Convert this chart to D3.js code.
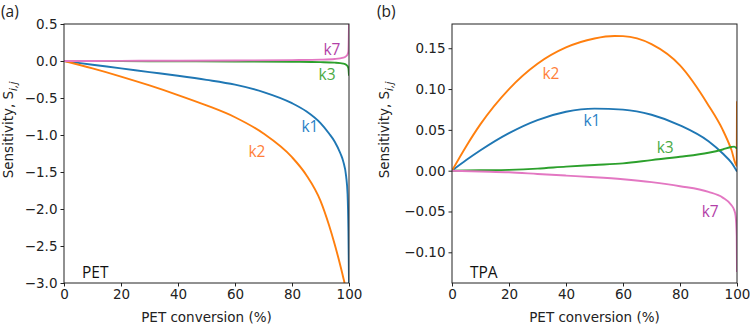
<!DOCTYPE html>
<html lang="en">
<head>
<meta charset="utf-8">
<title>Sensitivity</title>
<script src="https://cdn.jsdelivr.net/npm/d3@7"></script>
<style>
  body { margin: 0; background: #fff; }
  .tick text { font: 13.5px "DejaVu Sans", sans-serif; fill: #222; }
  .tick line, .domain { stroke: #222; }
  .lbl { font: 15.5px "Open Sans", sans-serif; }
  .axt { font: 13.5px "DejaVu Sans", sans-serif; fill: #222; }
</style>
</head>
<body>
<svg width="750" height="325"></svg>
<script>
// ---- panel (a): PET ----
var k1aX = [0, 10, 20, 30, 40, 50, 60, 70, 80, 85, 90, 93, 95, 97, 98, 99, 99.5, 99.8, 100];
var k1aY = [0, -0.05, -0.10, -0.15, -0.20, -0.255, -0.32, -0.42, -0.57, -0.68, -0.84, -0.98, -1.09, -1.25, -1.36, -1.56, -1.8, -2.3, -3.0];
var k2aX = [0, 10, 20, 30, 40, 50, 60, 70, 80, 85, 90, 93, 95, 97, 98, 98.5, 99];
var k2aY = [0, -0.10, -0.21, -0.33, -0.46, -0.60, -0.76, -0.98, -1.30, -1.54, -1.89, -2.22, -2.48, -2.77, -2.93, -3.02, -3.2];
var k3aX = [0, 20, 40, 60, 80, 90, 95, 98, 99, 99.5, 99.8, 100];
var k3aY = [0, -0.002, -0.004, -0.006, -0.01, -0.015, -0.022, -0.035, -0.05, -0.07, -0.1, -0.2];
var k7aX = [0, 20, 40, 60, 80, 90, 95, 98, 99, 99.5, 99.8, 100];
var k7aY = [0, 0.002, 0.004, 0.007, 0.012, 0.018, 0.027, 0.045, 0.065, 0.09, 0.13, 0.5];

// ---- panel (b): TPA ----
var k1bX = [0, 5, 10, 20, 30, 40, 50, 60, 70, 80, 90, 95, 98, 100];
var k1bY = [0, 0.013, 0.025, 0.046, 0.062, 0.0722, 0.076, 0.0748, 0.0685, 0.0555, 0.036, 0.021, 0.010, -0.001];
var k2bX = [0, 5, 10, 20, 30, 40, 50, 57, 60, 70, 80, 90, 95, 98, 99.9, 100];
var k2bY = [0, 0.030, 0.057, 0.100, 0.131, 0.151, 0.162, 0.165, 0.1648, 0.155, 0.129, 0.080, 0.050, 0.026, 0.006, 0.085];
var k3bX = [0, 10, 20, 30, 40, 50, 60, 70, 80, 90, 95, 98, 99, 100];
var k3bY = [0, 0.0005, 0.001, 0.0025, 0.005, 0.007, 0.009, 0.013, 0.017, 0.022, 0.026, 0.029, 0.0295, 0.027];
var k7bX = [0, 10, 20, 30, 40, 50, 60, 70, 80, 90, 95, 98, 99, 99.5, 99.9, 100];
var k7bY = [0, -0.001, -0.002, -0.004, -0.006, -0.008, -0.0105, -0.014, -0.019, -0.026, -0.033, -0.042, -0.048, -0.055, -0.08, -0.124];

var xTicks = [0, 20, 40, 60, 80, 100];
var yTicksA = [0.5, 0, -0.5, -1, -1.5, -2, -2.5, -3];
var yTicksB = [0.15, 0.10, 0.05, 0, -0.05, -0.10];

var colors = { k1: "#1f77b4", k2: "#ff7f0e", k3: "#2ca02c", k7: "#e377c2" };
var txtColors = { k1: "#2a7fc6", k2: "#ff7f3a", k3: "#4aaa44", k7: "#b33fa8" };

var svg = d3.select("svg");

function panel(opt) {
  var x = d3.scaleLinear().domain([0, 100]).range([opt.left, opt.right]);
  var y = d3.scaleLinear().domain(opt.ydom).range([283, 24]);
  var g = svg.append("g");

  g.append("clipPath").attr("id", opt.id)
    .append("rect").attr("x", opt.left).attr("y", 24)
    .attr("width", opt.right - opt.left).attr("height", 259);

  var line = d3.line()
    .x(function(d) { return x(d[0]); })
    .y(function(d) { return y(d[1]); })
    .curve(d3.curveMonotoneX);

  opt.series.forEach(function(s) {
    g.append("path")
      .datum(d3.zip(s.xs, s.ys))
      .attr("clip-path", "url(#" + opt.id + ")")
      .attr("fill", "none")
      .attr("stroke", colors[s.key])
      .attr("stroke-width", 1.9)
      .attr("d", line);
  });

  g.append("g").attr("transform", "translate(0,283)")
    .call(d3.axisBottom(x).tickValues(xTicks).tickSize(3.5).tickPadding(3))
    .call(function(a) { a.selectAll("text").text(function(d) { return d; }); });
  g.append("g").attr("transform", "translate(" + opt.left + ",0)")
    .call(d3.axisLeft(y).tickValues(opt.yticks).tickSize(3.5).tickPadding(3)
      .tickFormat(function(d) { return d3.format(opt.fmt)(d).replace("-", "\u2212"); }));

  g.selectAll(".domain").remove();
  g.append("rect").attr("x", opt.left).attr("y", 24)
    .attr("width", opt.right - opt.left).attr("height", 259)
    .attr("fill", "none").attr("stroke", "#222").attr("stroke-width", 1);

  g.append("text").attr("class", "axt")
    .attr("x", (opt.left + opt.right) / 2).attr("y", 322)
    .attr("text-anchor", "middle").text("PET conversion (%)");

  var yl = g.append("text").attr("class", "axt")
    .attr("transform", "translate(" + opt.ylx + ",130) rotate(-90)")
    .attr("text-anchor", "middle").attr("font-size", "14.5px");
  yl.append("tspan").text("Sensitivity, S");
  yl.append("tspan").attr("font-style", "italic").attr("font-size", "10.5px")
    .attr("dy", 4).text("i,j");

  g.append("text").attr("class", "lbl").attr("x", opt.panelX).attr("y", 17)
    .attr("fill", "#222").text(opt.panel);

  g.append("text").attr("class", "lbl").attr("x", opt.left + 18).attr("y", 278)
    .attr("fill", "#111").text(opt.name);

  opt.labels.forEach(function(l) {
    g.append("text").attr("class", "lbl")
      .attr("x", x(l.at[0])).attr("y", y(l.at[1]))
      .attr("dy", "0.35em")
      .attr("text-anchor", "middle")
      .attr("fill", txtColors[l.key]).text(l.key);
  });
}

panel({
  id: "clipA", left: 64, right: 349, ydom: [-3, 0.5], yticks: yTicksA, fmt: ".1f",
  ylx: 13, panelX: 1, panel: "(a)", name: "PET",
  series: [
    { key: "k1", xs: k1aX, ys: k1aY },
    { key: "k2", xs: k2aX, ys: k2aY },
    { key: "k3", xs: k3aX, ys: k3aY },
    { key: "k7", xs: k7aX, ys: k7aY }
  ],
  labels: [
    { key: "k7", at: [94, 0.149] },
    { key: "k3", at: [92.3, -0.19] },
    { key: "k1", at: [86.3, -0.88] },
    { key: "k2", at: [67.7, -1.22] }
  ]
});

panel({
  id: "clipB", left: 452, right: 737, ydom: [-0.1376, 0.1797], yticks: yTicksB, fmt: ".2f",
  ylx: 389, panelX: 377, panel: "(b)", name: "TPA",
  series: [
    { key: "k1", xs: k1bX, ys: k1bY },
    { key: "k2", xs: k2bX, ys: k2bY },
    { key: "k3", xs: k3bX, ys: k3bY },
    { key: "k7", xs: k7bX, ys: k7bY }
  ],
  labels: [
    { key: "k2", at: [34.7, 0.1185] },
    { key: "k1", at: [49.1, 0.061] },
    { key: "k3", at: [74.8, 0.0278] },
    { key: "k7", at: [90.6, -0.0506] }
  ]
});
</script>
</body>
</html>
